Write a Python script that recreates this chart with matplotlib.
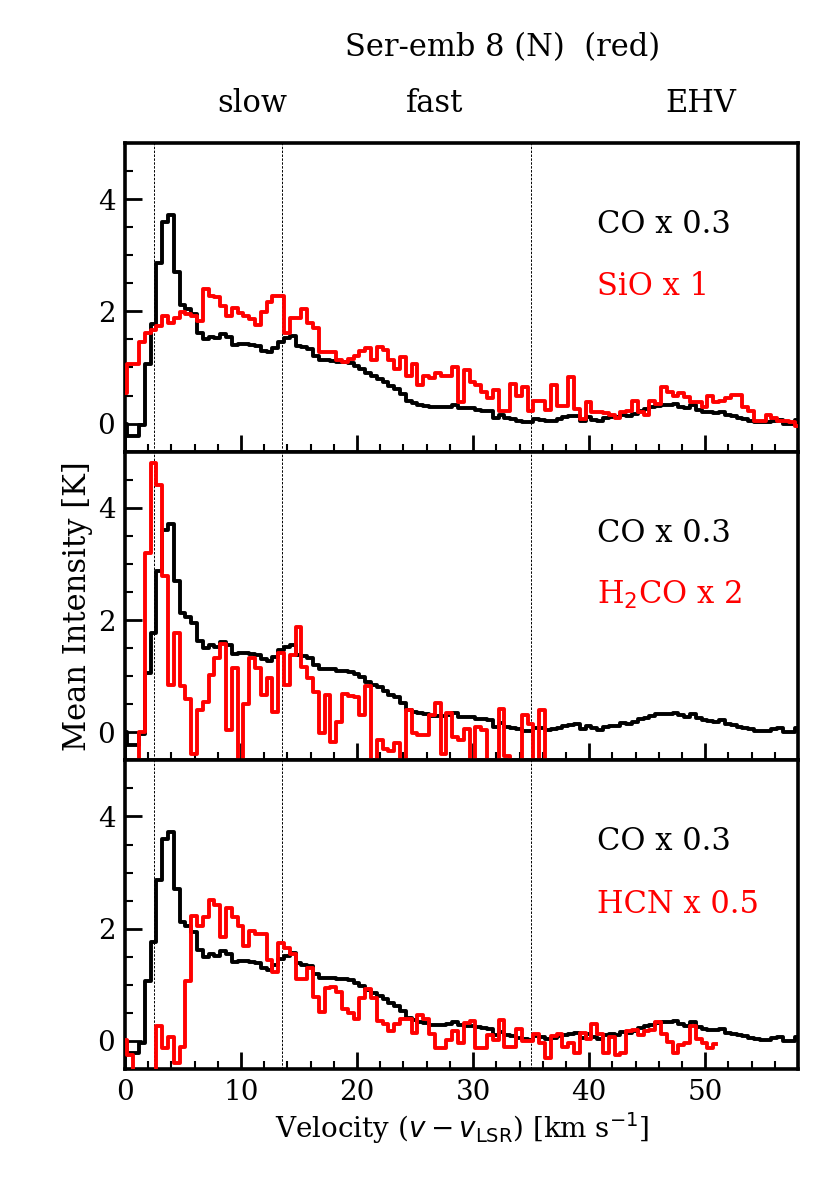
import numpy as np
import matplotlib
matplotlib.use('Agg')
import matplotlib.pyplot as plt
from matplotlib.ticker import MultipleLocator

plt.rcParams['font.family'] = ['DejaVu Serif']
plt.rcParams['mathtext.fontset'] = 'dejavusans'

# ---------------- data (0.5 km/s channels, first channel centre at -0.05 km/s)
DV = 0.5
V0 = -0.05

co = [0.00, -0.22, -0.22, -0.03, 1.06, 1.77, 2.87, 3.60, 3.72, 2.70,
      2.12, 2.05, 1.95, 1.62, 1.50, 1.55, 1.52, 1.60, 1.55, 1.40,
      1.42, 1.42, 1.40, 1.38, 1.30, 1.27, 1.35, 1.46, 1.52, 1.56,
      1.38, 1.36, 1.33, 1.20, 1.13, 1.13, 1.12, 1.10, 1.10, 1.08,
      1.03, 0.98, 0.90, 0.85, 0.80, 0.74, 0.67, 0.62, 0.53, 0.40,
      0.37, 0.34, 0.32, 0.29, 0.29, 0.29, 0.30, 0.34, 0.28, 0.27,
      0.27, 0.24, 0.23, 0.22, 0.10, 0.16, 0.10, 0.08, 0.05, 0.03,
      0.02, 0.08, 0.07, 0.04, 0.05, 0.08, 0.11, 0.13, 0.14, 0.05,
      0.12, 0.07, 0.04, 0.10, 0.12, 0.11, 0.16, 0.14, 0.18, 0.23,
      0.26, 0.29, 0.32, 0.33, 0.33, 0.35, 0.30, 0.27, 0.33, 0.25,
      0.21, 0.20, 0.19, 0.21, 0.15, 0.13, 0.10, 0.08, 0.05, 0.03,
      0.02, 0.02, 0.05, 0.07, 0.00, 0.00, 0.07]

sio = [0.55, 1.06, 1.06, 1.46, 1.62, 1.67, 1.74, 1.92, 1.80, 1.88,
       1.98, 1.96, 1.91, 1.82, 2.40, 2.27, 2.25, 2.09, 1.92, 2.06,
       1.97, 1.92, 1.86, 1.76, 1.98, 2.16, 2.28, 2.28, 1.61,
       1.88, 1.88, 2.04, 1.79, 1.70, 1.28, 1.28, 1.28, 1.13, 1.10,
       1.16, 1.20, 1.30, 1.34, 1.14, 1.37, 1.31, 1.14, 0.98, 1.18,
       0.84, 1.06, 0.68, 0.84, 0.82, 0.90, 0.84, 0.84, 1.01, 0.38,
       0.95, 0.74, 0.68, 0.56, 0.46, 0.59, 0.23, 0.23, 0.71, 0.49,
       0.65, 0.23, 0.40, 0.40, 0.25,
       0.68, 0.31, 0.31, 0.83, 0.26, 0.08, 0.38, 0.20, 0.20, 0.19,
       0.16, 0.10, 0.20, 0.22, 0.40, 0.20, 0.16, 0.41, 0.35,
       0.66, 0.56, 0.50, 0.54, 0.47, 0.38, 0.38, 0.30, 0.50, 0.38,
       0.40, 0.46, 0.51, 0.51, 0.30, 0.23, 0.05, 0.05, 0.16, 0.10,
       0.05, 0.05, 0.02, -0.04]

h2co = [-0.90, -0.90, -0.90, 0.00, 3.19, 4.80, 4.41, 2.79, 0.85, 1.76,
        0.83, 0.60, -0.38, 0.39, 0.54, 1.02, 1.33, 1.58, 0.04, 1.14,
        -0.60, 0.51, 1.33, 1.15, 0.66, 0.96, 0.36, 1.42, 0.85, 1.38,
        1.87, 1.17, 0.96, 0.71, -0.02,
        0.66, -0.17, 0.18, 0.69, 0.64, 0.63, 0.30, 0.82, -0.80, -0.13,
        -0.29, -0.33, -0.20, -0.80, 0.39, -0.02, -0.04, -0.04, 0.30, 0.52,
        -0.38, 0.35, -0.08, -0.14, 0.05, -0.80, 0.10, 0.04, -0.80, -0.80,
        0.42, -0.43, -0.80, -0.80, 0.30, 0.15, -0.80, 0.40, -1.00]

hcn = [0.02, -0.25, -0.90, -0.90, -0.90, -0.90, 0.27, -0.13, 0.07, -0.40,
       -0.10, 1.06, 2.23, 2.05, 2.21, 2.52, 2.43, 1.85, 2.37, 2.21,
       2.04, 1.70, 1.96, 1.91, 1.91, 1.45, 1.22, 1.74, 1.65, 1.55,
       1.10, 1.10, 1.30, 0.78, 0.52,
       0.94, 0.97, 0.88, 0.57, 0.49, 0.39, 0.76, 0.92, 0.76, 0.36,
       0.30, 0.17, 0.30, 0.39, 0.39, 0.15,
       0.46, 0.39, 0.13, -0.13, -0.13, 0.02, 0.18, -0.04, 0.32, 0.36,
       -0.13, -0.13, 0.11, 0.02, 0.375, -0.11, -0.11, 0.21, 0.00, 0.00,
       0.13, -0.03, -0.31, 0.09, 0.13, -0.11,
       -0.04, -0.22, 0.14, 0.03, 0.30, 0.125, -0.22, 0.07, -0.25, -0.22,
       0.17, 0.20, 0.10, 0.17, 0.20, 0.33, 0.125, -0.01, -0.22, -0.07,
       -0.04, 0.27, 0.03, -0.04, -0.13, -0.05]

tracers = [sio, h2co, hcn]
tracer_labels = ['SiO x 1', 'H$_2$CO x 2', 'HCN x 0.5']
co_label = 'CO x 0.3'
boundaries = [2.5, 13.5, 35.0]
regimes = ['slow', 'fast', 'EHV']
regime_x = [11.0, 26.7, 49.6]
title = 'Ser-emb 8 (N)  (red)'


def vel(vals):
    return V0 + DV * np.arange(len(vals))


# ---------------- figure
W, H = 840, 1188
fig = plt.figure(figsize=(W / 100, H / 100), dpi=100)
left, right = 125 / W, 798 / W
top, bottom = 1 - 143 / H, 1 - 1069 / H
ph = (top - bottom) / 3

axes = []
for i in range(3):
    ax = fig.add_axes([left, top - (i + 1) * ph, right - left, ph])
    axes.append(ax)
    ax.step(vel(co), co, where='mid', color='black', lw=2.8, zorder=3)
    ax.step(vel(tracers[i]), tracers[i], where='mid', color='red', lw=2.8, zorder=4)
    for b in boundaries:
        ax.axvline(b, color='black', lw=0.7, ls=(0, (2.5, 1.5)), zorder=1)
    ax.set_xlim(0, 58)
    ax.set_ylim(-0.5, 5)
    ax.yaxis.set_major_locator(MultipleLocator(2))
    ax.yaxis.set_minor_locator(MultipleLocator(0.5))
    ax.xaxis.set_major_locator(MultipleLocator(10))
    ax.xaxis.set_minor_locator(MultipleLocator(2))
    ax.tick_params(which='both', direction='in', top=False, right=False,
                   labelsize=20)
    ax.tick_params(which='major', length=12, width=2, pad=7)
    ax.tick_params(which='minor', length=6, width=1.5)
    for s in ax.spines.values():
        s.set_linewidth(2.6)
    if i < 2:
        ax.tick_params(labelbottom=False)
    ax.text(40.7, 3.55, co_label, color='black', fontsize=22, va='center', ha='left')
    ax.text(40.7, 2.44, tracer_labels[i], color='red', fontsize=22, va='center', ha='left')

fig.text(503 / W, 1 - 48 / H, title, ha='center', va='center', fontsize=22)
for name, xv in zip(regimes, regime_x):
    xp = axes[0].transData.transform((xv, 0))[0] / W
    fig.text(xp, 1 - 104 / H, name, ha='center', va='center', fontsize=22)

fig.text(78 / W, 1 - 606 / H, 'Mean Intensity [K]', rotation=90,
         ha='center', va='center', fontsize=22)
fig.text(462 / W, 1 - 1128 / H,
         r'Velocity ($v - v_{\rm LSR}$) [km s$^{-1}$]',
         ha='center', va='center', fontsize=20)

fig.savefig('out.png', dpi=100)
